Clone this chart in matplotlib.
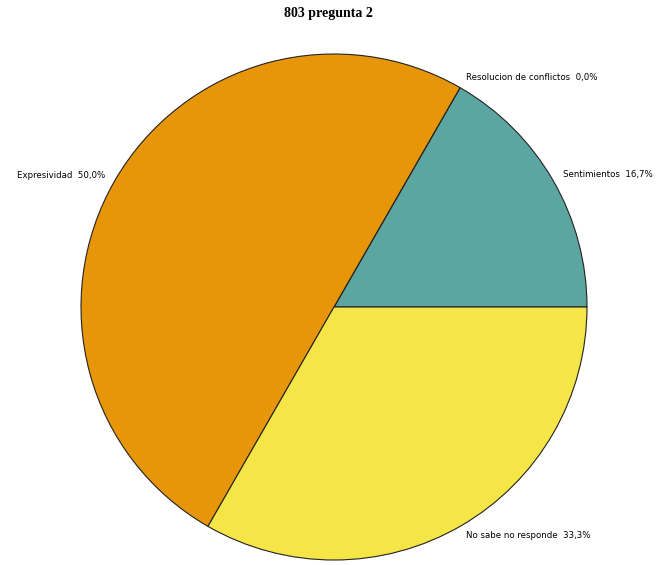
import matplotlib.pyplot as plt

# data
categories = ["Sentimientos", "Resolucion de conflictos", "Expresividad", "No sabe no responde"]
values = [16.7, 0.0, 50.0, 33.3]
colors = ["#5ca6a2", "#2e6f9e", "#e69608", "#f5e546"]

labels = [f"{c}  {v:.1f}%".replace(".", ",") for c, v in zip(categories, values)]

fig = plt.figure(figsize=(6.56, 5.65), dpi=100)
ax = fig.add_axes([81 / 656, 5 / 565, 506 / 656, 506 / 565])

wedges, texts = ax.pie(values, labels=labels, colors=colors, startangle=0,
                       counterclock=True, labeldistance=1.045,
                       wedgeprops=dict(edgecolor="#222222", linewidth=0.8),
                       textprops=dict(fontsize=6.2, family="DejaVu Sans"))
ax.set_xlim(-1, 1)
ax.set_ylim(-1, 1)

fig.text(0.5, 1 - 13 / 565, "803 pregunta 2", ha="center", va="center",
         fontsize=10, fontweight="bold", family="Liberation Serif")

fig.savefig("out.png", dpi=100)
